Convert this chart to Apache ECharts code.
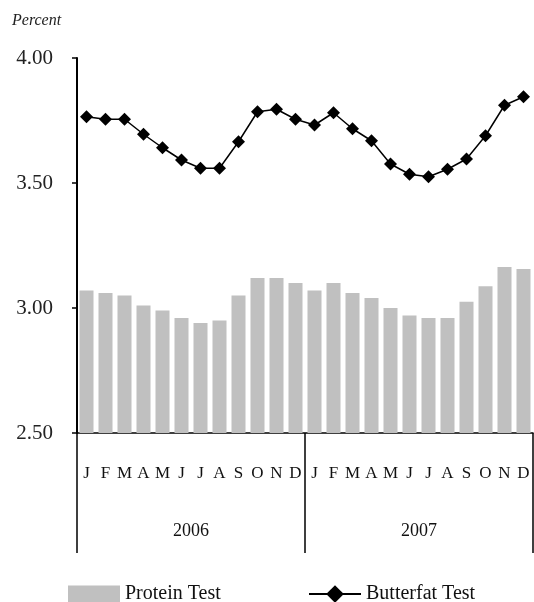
<!DOCTYPE html>
<html>
<head>
<meta charset="utf-8">
<script src="https://cdn.jsdelivr.net/npm/echarts@6/dist/echarts.min.js"></script>
<style>
  html, body { margin: 0; padding: 0; background: #fff; }
  #chart { width: 534px; height: 602px; }
</style>
</head>
<body>
<div id="chart"></div>
<script>
var months = ['J', 'F', 'M', 'A', 'M', 'J', 'J', 'A', 'S', 'O', 'N', 'D',
  'J', 'F', 'M', 'A', 'M', 'J', 'J', 'A', 'S', 'O', 'N', 'D']
var years = ['2006', '2007']
var proteinTest = [3.07, 3.06, 3.05, 3.01, 2.99, 2.96, 2.94, 2.95, 3.05, 3.12, 3.12, 3.10,
  3.07, 3.10, 3.06, 3.04, 3.00, 2.97, 2.96, 2.96, 3.025, 3.087, 3.164, 3.156]
var butterfatTest = [3.765, 3.755, 3.755, 3.695, 3.641, 3.592, 3.559, 3.559, 3.665, 3.785, 3.795, 3.755,
  3.732, 3.781, 3.717, 3.669, 3.576, 3.535, 3.525, 3.555, 3.596, 3.689, 3.811, 3.845]
var yTicks = [2.5, 3.0, 3.5, 4.0]

var font = 'Liberation Serif, Times New Roman, serif'
var chart = echarts.init(document.getElementById('chart'))

chart.setOption({
  animation: false,
  backgroundColor: '#fff',
  title: {
    text: 'Percent',
    left: 7,
    top: 8,
    textStyle: { fontFamily: font, fontStyle: 'italic', fontWeight: 'normal', fontSize: 16, color: '#222' }
  },
  grid: { left: 77, right: 1, top: 58, bottom: 169, containLabel: false },
  legend: [
    {
      data: ['Protein Test'],
      icon: 'rect',
      left: 63,
      top: 579,
      itemWidth: 52,
      itemHeight: 17,
      itemGap: 4,
      textStyle: { fontFamily: font, fontSize: 20, color: '#111' }
    },
    {
      data: ['Butterfat Test'],
      left: 303,
      top: 579,
      itemWidth: 52,
      itemHeight: 22,
      textStyle: { fontFamily: font, fontSize: 20, color: '#111' }
    }
  ],
  xAxis: [
    {
      type: 'category',
      data: months,
      position: 'bottom',
      axisLine: { lineStyle: { color: '#000', width: 1.5 } },
      axisTick: { show: false },
      axisLabel: { interval: 0, margin: 32, fontFamily: font, fontSize: 17, color: '#111' }
    },
    {
      type: 'category',
      data: years,
      position: 'bottom',
      axisLine: { show: false },
      axisTick: { show: true, length: 120, interval: 0, lineStyle: { color: '#000', width: 1.5 } },
      axisLabel: { interval: 0, margin: 89, fontFamily: font, fontSize: 18, color: '#111' }
    }
  ],
  yAxis: {
    type: 'value',
    min: yTicks[0],
    max: yTicks[yTicks.length - 1],
    interval: 0.5,
    splitLine: { show: false },
    axisLine: { show: true, lineStyle: { color: '#000', width: 2 } },
    axisTick: { show: true, length: 5, lineStyle: { color: '#000', width: 1.5 } },
    axisLabel: {
      margin: 24,
      fontFamily: font,
      fontSize: 21,
      color: '#222',
      formatter: function(v) { return v.toFixed(2) }
    }
  },
  series: [
    {
      name: 'Protein Test',
      type: 'bar',
      data: proteinTest,
      barWidth: 14,
      itemStyle: { color: '#c0c0c0' }
    },
    {
      name: 'Butterfat Test',
      type: 'line',
      data: butterfatTest,
      symbol: 'diamond',
      symbolSize: 13,
      itemStyle: { color: '#000' },
      lineStyle: { color: '#000', width: 1.5 },
      z: 5
    }
  ]
})
</script>
</body>
</html>
